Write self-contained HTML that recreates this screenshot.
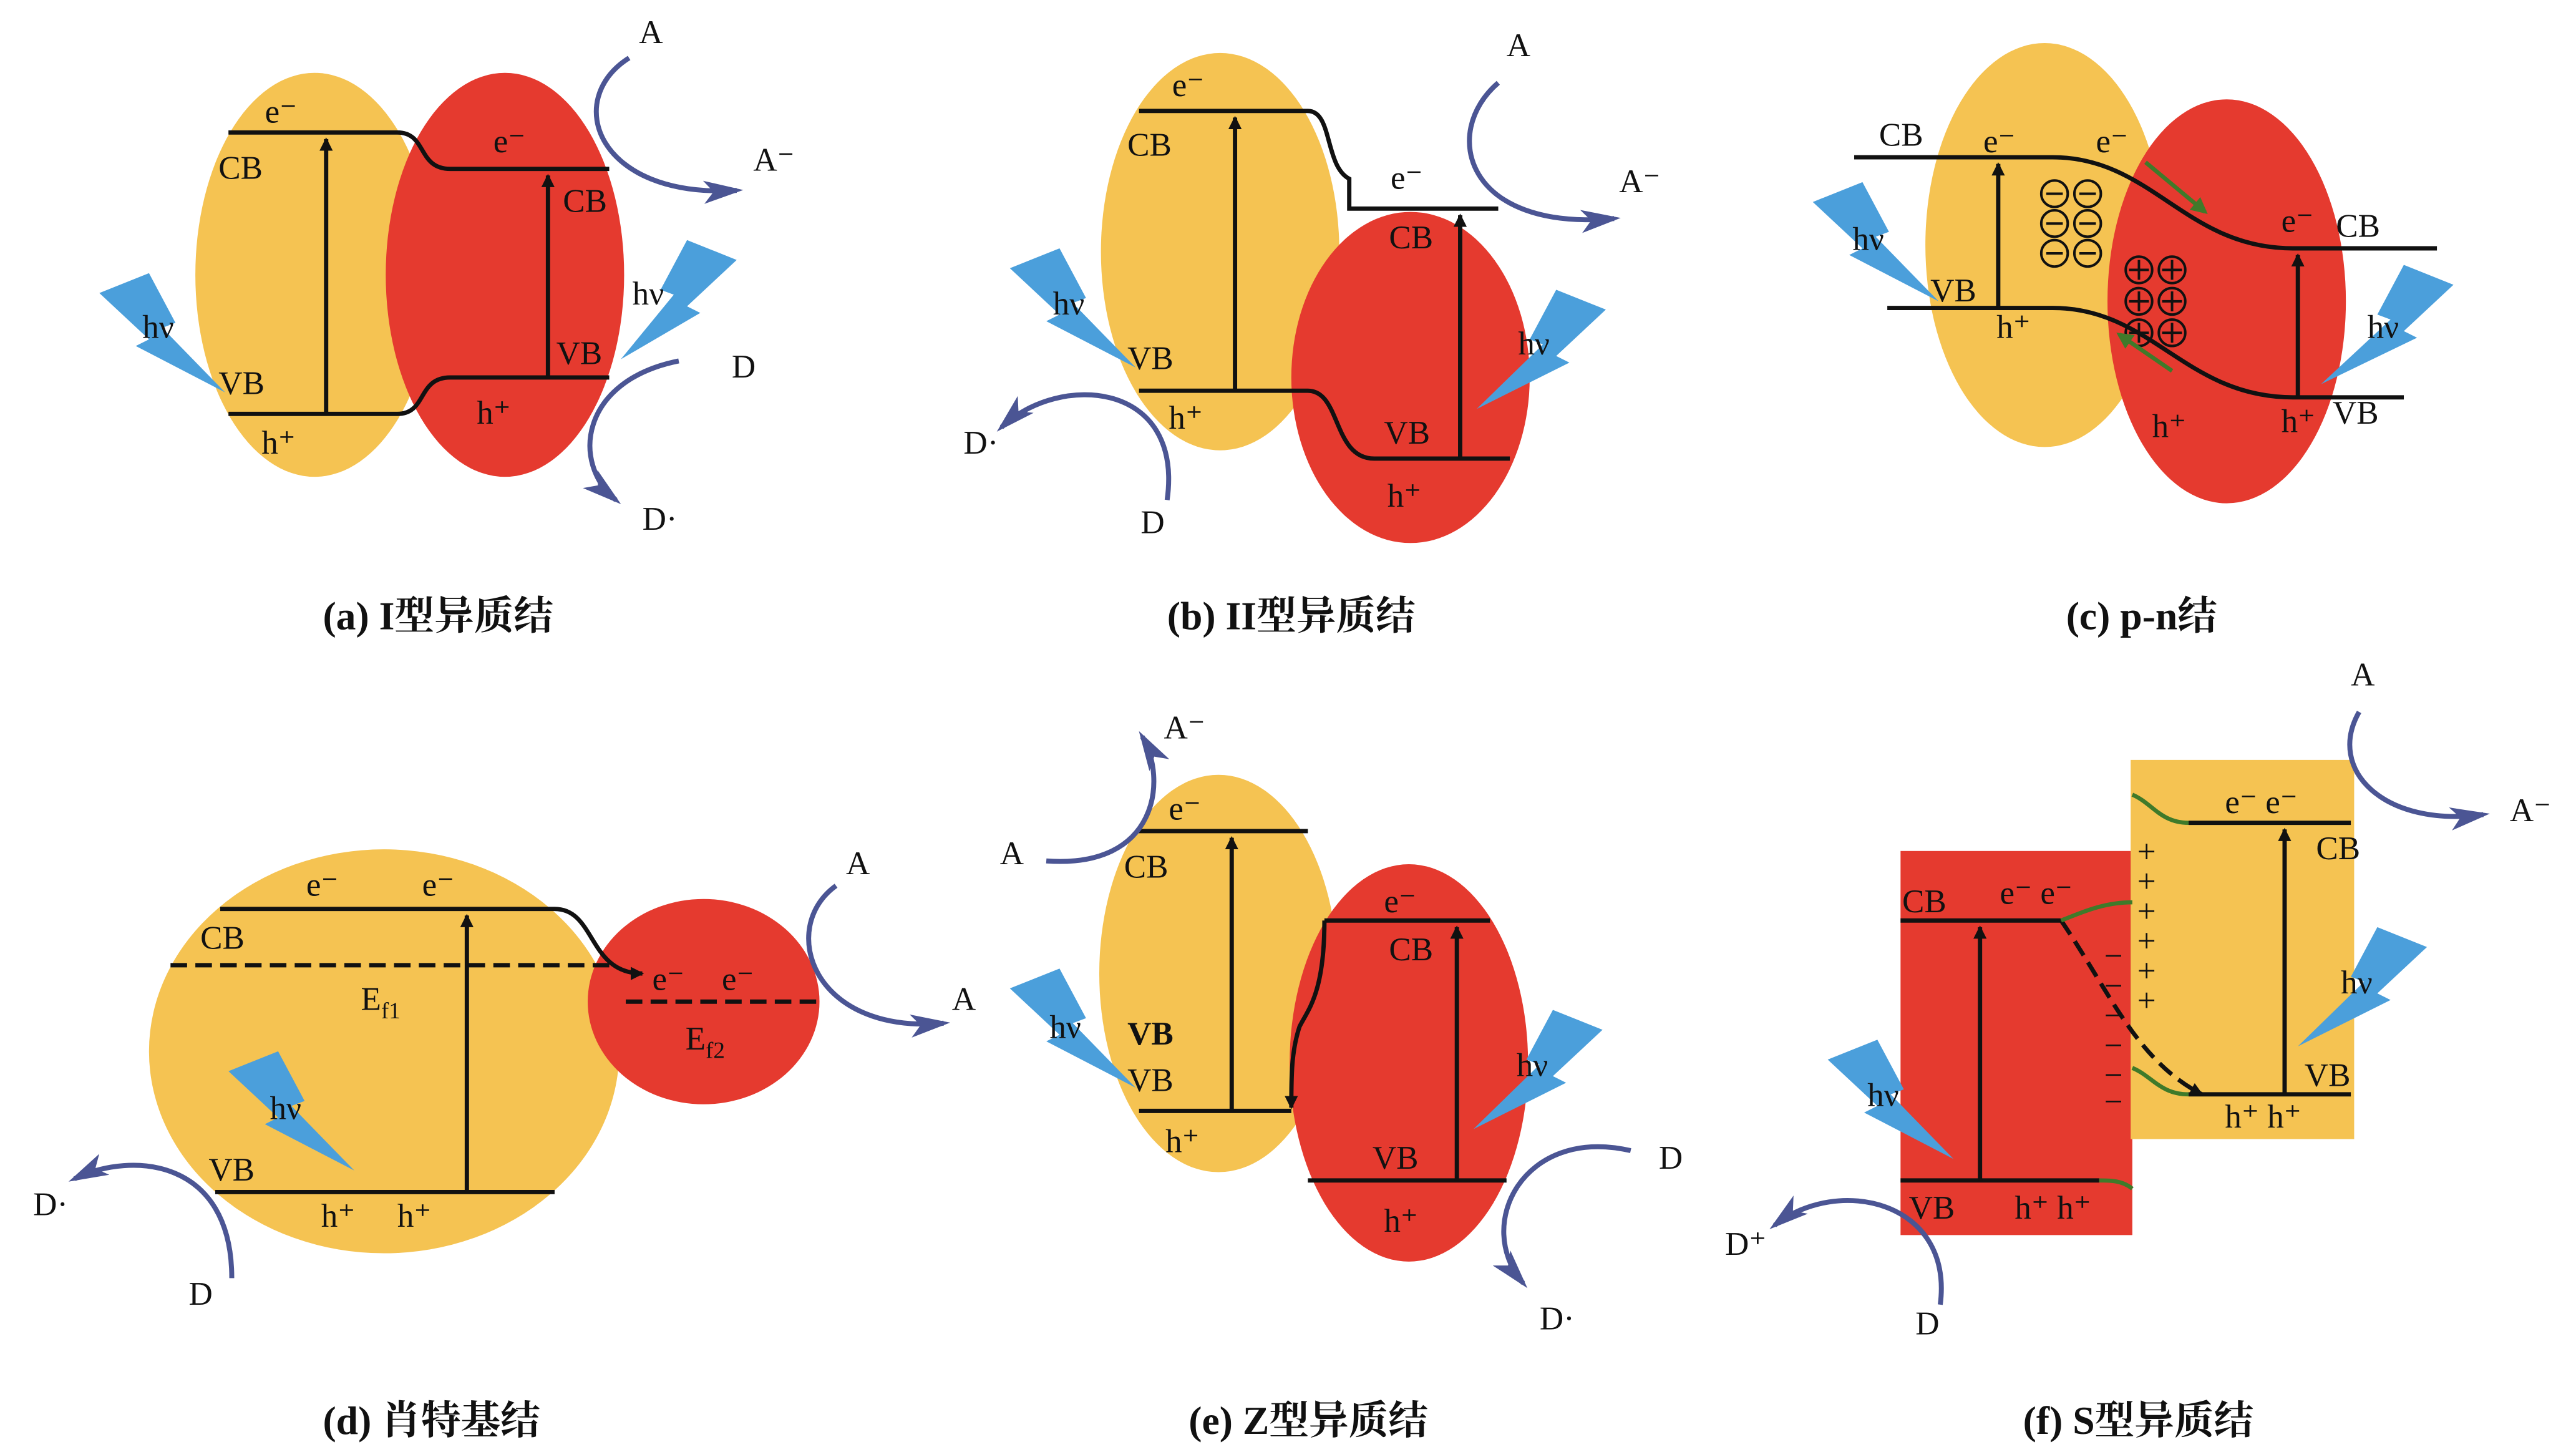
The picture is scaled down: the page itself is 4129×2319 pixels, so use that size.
<!DOCTYPE html>
<html><head><meta charset="utf-8">
<style>
html,body{margin:0;padding:0;background:#fff;}
svg{display:block;width:4129px;height:2319px;}
text{font-family:"Liberation Serif","Noto Serif CJK SC",serif;font-size:20px;fill:#111;}
.cap{font-size:24px;font-weight:bold;}
.ln{stroke:#111;stroke-width:2.6;fill:none;}
.ca{stroke:#4b5594;stroke-width:3;fill:none;}
.gr{stroke:#3f7a2a;stroke-width:2.5;fill:none;}
.y{fill:#f5c352;}
.r{fill:#e53a2f;}
.b{fill:#4b9fdb;}
</style></head><body>
<svg viewBox="0 0 1556 874" preserveAspectRatio="none" xmlns="http://www.w3.org/2000/svg">
<defs>
<marker id="ah" markerWidth="8" markerHeight="8" refX="7" refY="4" orient="auto" markerUnits="userSpaceOnUse"><path d="M0,0 L8,4 L0,8 z" fill="#111"/></marker>
<marker id="bh" markerWidth="24" markerHeight="14" refX="20" refY="7" orient="auto" markerUnits="userSpaceOnUse"><path d="M0,0 L24,7 L0,14 L6,7 z" fill="#4b5594"/></marker>
<marker id="gh" markerWidth="10" markerHeight="10" refX="8" refY="5" orient="auto" markerUnits="userSpaceOnUse"><path d="M0,0 L10,5 L0,10 z" fill="#3f7a2a"/></marker>
</defs>
<rect width="1556" height="874" fill="#fff"/>

<!-- ========== (a) ========== -->
<ellipse class="y" cx="190" cy="166" rx="72" ry="122"/>
<ellipse class="r" cx="305" cy="166" rx="72" ry="122"/>
<path class="ln" d="M138,80 H240 C258,80 252,102 272,102 H368"/>
<path class="ln" d="M138,250 H240 C258,250 252,228 272,228 H368"/>
<line class="ln" x1="197" y1="250" x2="197" y2="84" marker-end="url(#ah)"/>
<line class="ln" x1="331" y1="228" x2="331" y2="106" marker-end="url(#ah)"/>
<text x="160" y="74">e⁻</text><text x="132" y="108">CB</text><text x="132" y="238">VB</text><text x="158" y="274">h⁺</text>
<text x="298" y="92">e⁻</text><text x="340" y="128">CB</text><text x="336" y="220">VB</text><text x="288" y="256">h⁺</text>
<g transform="translate(60,165)"><polygon class="b" points="0,12 30,0 46,30 38,33 76,72 22,44 30,40"/></g>
<g transform="translate(445,145) scale(-1,1)"><polygon class="b" points="0,12 30,0 46,30 38,33 70,72 22,44 30,40"/></g>
<text x="86" y="204">hν</text><text x="382" y="184">hν</text>
<path class="ca" d="M380,35 C340,60 360,120 445,115" marker-end="url(#bh)"/>
<text x="386" y="26">A</text><text x="455" y="103">A⁻</text>
<path class="ca" d="M410,218 C350,230 345,280 372,302" marker-end="url(#bh)"/>
<text x="442" y="228">D</text><text x="388" y="320">D·</text>
<text class="cap" x="195" y="380">(a) I型异质结</text>

<!-- ========== (b) ========== -->
<ellipse class="y" cx="737" cy="152" rx="72" ry="120"/>
<ellipse class="r" cx="852" cy="228" rx="72" ry="100"/>
<path class="ln" d="M688,67 H790 C805,67 800,100 815,108 L815,126 H905"/>
<path class="ln" d="M688,236 H790 C810,236 805,277 830,277 H912"/>
<line class="ln" x1="746" y1="236" x2="746" y2="71" marker-end="url(#ah)"/>
<line class="ln" x1="882" y1="277" x2="882" y2="130" marker-end="url(#ah)"/>
<text x="708" y="58">e⁻</text><text x="681" y="94">CB</text><text x="681" y="223">VB</text><text x="706" y="259">h⁺</text>
<text x="840" y="114">e⁻</text><text x="839" y="150">CB</text><text x="836" y="268">VB</text><text x="838" y="306">h⁺</text>
<g transform="translate(610,150)"><polygon class="b" points="0,12 30,0 46,30 38,33 76,72 22,44 30,40"/></g>
<g transform="translate(970,175) scale(-1,1)"><polygon class="b" points="0,12 30,0 46,30 38,33 78,72 22,44 30,40"/></g>
<text x="636" y="190">hν</text><text x="917" y="214">hν</text>
<path class="ca" d="M905,50 C870,80 885,140 975,132" marker-end="url(#bh)"/>
<text x="910" y="34">A</text><text x="978" y="116">A⁻</text>
<path class="ca" d="M705,302 C715,230 640,225 605,258" marker-end="url(#bh)"/>
<text x="689" y="322">D</text><text x="582" y="274">D·</text>
<text class="cap" x="705" y="380">(b) II型异质结</text>

<!-- ========== (c) ========== -->
<ellipse class="y" cx="1235" cy="148" rx="72" ry="122"/>
<ellipse class="r" cx="1345" cy="182" rx="72" ry="122"/>
<path class="ln" d="M1120,95 H1240 C1300,95 1320,150 1385,150 H1472"/>
<path class="ln" d="M1140,186 H1240 C1300,186 1320,240 1385,240 H1452"/>
<line class="ln" x1="1207" y1="186" x2="1207" y2="99" marker-end="url(#ah)"/>
<line class="ln" x1="1388" y1="240" x2="1388" y2="154" marker-end="url(#ah)"/>
<g fill="none" stroke="#111" stroke-width="1.5" font-size="16">
<circle cx="1241" cy="117" r="8"/><circle cx="1261" cy="117" r="8"/>
<circle cx="1241" cy="135" r="8"/><circle cx="1261" cy="135" r="8"/>
<circle cx="1241" cy="153" r="8"/><circle cx="1261" cy="153" r="8"/>
<path d="M1236,117h10M1256,117h10M1236,135h10M1256,135h10M1236,153h10M1256,153h10"/>
<circle cx="1292" cy="163" r="8"/><circle cx="1312" cy="163" r="8"/>
<circle cx="1292" cy="182" r="8"/><circle cx="1312" cy="182" r="8"/>
<circle cx="1292" cy="201" r="8"/><circle cx="1312" cy="201" r="8"/>
<path d="M1286,163h12M1292,157v12M1306,163h12M1312,157v12M1286,182h12M1292,176v12M1306,182h12M1312,176v12M1286,201h12M1292,195v12M1306,201h12M1312,195v12"/>
</g>
<line class="gr" x1="1296" y1="98" x2="1332" y2="128" marker-end="url(#gh)"/>
<line class="gr" x1="1312" y1="224" x2="1280" y2="202" marker-end="url(#gh)"/>
<text x="1135" y="88">CB</text><text x="1198" y="92">e⁻</text><text x="1266" y="92">e⁻</text>
<text x="1166" y="182">VB</text><text x="1206" y="204">h⁺</text>
<text x="1378" y="140">e⁻</text><text x="1411" y="143">CB</text>
<text x="1300" y="264">h⁺</text><text x="1378" y="261">h⁺</text><text x="1409" y="256">VB</text>
<g transform="translate(1095,110)"><polygon class="b" points="0,12 30,0 46,30 38,33 76,72 22,44 30,40"/></g>
<g transform="translate(1482,160) scale(-1,1)"><polygon class="b" points="0,12 30,0 46,30 38,33 80,72 22,44 30,40"/></g>
<text x="1119" y="151">hν</text><text x="1430" y="204">hν</text>
<text class="cap" x="1248" y="380">(c) p-n结</text>

<!-- ========== (d) ========== -->
<ellipse class="y" cx="232" cy="635" rx="142" ry="122"/>
<ellipse class="r" cx="425" cy="605" rx="70" ry="62"/>
<path class="ln" d="M133,549 H335 C360,549 355,588 388,588" marker-end="url(#ah)"/>
<line class="ln" x1="103" y1="583" x2="368" y2="583" stroke-dasharray="10,5"/>
<line class="ln" x1="378" y1="605" x2="495" y2="605" stroke-dasharray="10,5"/>
<line class="ln" x1="130" y1="720" x2="335" y2="720"/>
<line class="ln" x1="282" y1="720" x2="282" y2="553" marker-end="url(#ah)"/>
<text x="185" y="541">e⁻</text><text x="255" y="541">e⁻</text><text x="121" y="573">CB</text>
<text x="218" y="610">E<tspan font-size="14" dy="5">f1</tspan></text>
<text x="126" y="713">VB</text><text x="194" y="741">h⁺</text><text x="240" y="741">h⁺</text>
<text x="394" y="598">e⁻</text><text x="436" y="598">e⁻</text>
<text x="414" y="634">E<tspan font-size="14" dy="5">f2</tspan></text>
<g transform="translate(138,635)"><polygon class="b" points="0,12 30,0 46,30 38,33 76,72 22,44 30,40"/></g>
<text x="163" y="676">hν</text>
<path class="ca" d="M505,535 C470,560 490,625 570,618" marker-end="url(#bh)"/>
<text x="511" y="528">A</text><text x="575" y="610">A</text>
<path class="ca" d="M140,772 C140,700 80,695 45,712" marker-end="url(#bh)"/>
<text x="20" y="734">D·</text><text x="114" y="788">D</text>
<text class="cap" x="195" y="866">(d) 肖特基结</text>

<!-- ========== (e) ========== -->
<ellipse class="y" cx="736" cy="588" rx="72" ry="120"/>
<ellipse class="r" cx="851" cy="642" rx="72" ry="120"/>
<line class="ln" x1="688" y1="502" x2="790" y2="502"/>
<line class="ln" x1="688" y1="671" x2="780" y2="671"/>
<line class="ln" x1="800" y1="556" x2="900" y2="556"/>
<line class="ln" x1="790" y1="713" x2="910" y2="713"/>
<line class="ln" x1="744" y1="671" x2="744" y2="506" marker-end="url(#ah)"/>
<line class="ln" x1="880" y1="713" x2="880" y2="560" marker-end="url(#ah)"/>
<path class="ln" d="M800,556 C800,600 790,610 785,620 C780,635 780,650 780,669" marker-end="url(#ah)"/>
<text x="706" y="495">e⁻</text><text x="679" y="530">CB</text><text x="681" y="631" font-weight="bold">VB</text><text x="681" y="659">VB</text><text x="704" y="696">h⁺</text>
<text x="836" y="551">e⁻</text><text x="839" y="580">CB</text><text x="829" y="706">VB</text><text x="836" y="744">h⁺</text>
<g transform="translate(610,585)"><polygon class="b" points="0,12 30,0 46,30 38,33 76,72 22,44 30,40"/></g>
<g transform="translate(968,610) scale(-1,1)"><polygon class="b" points="0,12 30,0 46,30 38,33 78,72 22,44 30,40"/></g>
<text x="634" y="627">hν</text><text x="916" y="650">hν</text>
<path class="ca" d="M632,520 C700,525 705,470 690,445" marker-end="url(#bh)"/>
<text x="604" y="522">A</text><text x="703" y="446">A⁻</text>
<path class="ca" d="M985,695 C920,680 890,740 920,775" marker-end="url(#bh)"/>
<text x="1002" y="706">D</text><text x="930" y="803">D·</text>
<text class="cap" x="718" y="866">(e) Z型异质结</text>

<!-- ========== (f) ========== -->
<rect class="r" x="1148" y="514" width="140" height="232"/>
<rect class="y" x="1287" y="459" width="135" height="229"/>
<line class="ln" x1="1148" y1="556" x2="1245" y2="556"/>
<line class="ln" x1="1148" y1="713" x2="1268" y2="713"/>
<line class="ln" x1="1196" y1="713" x2="1196" y2="560" marker-end="url(#ah)"/>
<line class="ln" x1="1322" y1="497" x2="1420" y2="497"/>
<line class="ln" x1="1322" y1="661" x2="1420" y2="661"/>
<line class="ln" x1="1380" y1="661" x2="1380" y2="501" marker-end="url(#ah)"/>
<path class="ln" d="M1245,556 C1275,600 1290,640 1330,661" stroke-dasharray="10,5" marker-end="url(#ah)"/>
<path class="gr" d="M1288,480 C1300,485 1305,497 1322,497"/>
<path class="gr" d="M1245,556 C1260,550 1272,545 1288,545"/>
<path class="gr" d="M1288,645 C1300,650 1305,661 1322,661"/>
<path class="gr" d="M1268,713 C1275,713 1282,713 1288,718"/>
<g font-size="20">
<text x="1291" y="521">+</text><text x="1291" y="539">+</text><text x="1291" y="557">+</text><text x="1291" y="575">+</text><text x="1291" y="593">+</text><text x="1291" y="611">+</text>
<text x="1271" y="584">−</text><text x="1271" y="602">−</text><text x="1271" y="620">−</text><text x="1271" y="638">−</text><text x="1271" y="656">−</text><text x="1271" y="672">−</text>
</g>
<text x="1149" y="551">CB</text><text x="1208" y="546">e⁻ e⁻</text>
<text x="1153" y="736">VB</text><text x="1217" y="736">h⁺ h⁺</text>
<text x="1344" y="491">e⁻ e⁻</text><text x="1399" y="519">CB</text>
<text x="1392" y="656">VB</text><text x="1344" y="681">h⁺ h⁺</text>
<g transform="translate(1104,628)"><polygon class="b" points="0,12 30,0 46,30 38,33 76,72 22,44 30,40"/></g>
<g transform="translate(1466,560) scale(-1,1)"><polygon class="b" points="0,12 30,0 46,30 38,33 78,72 22,44 30,40"/></g>
<text x="1128" y="668">hν</text><text x="1414" y="600">hν</text>
<path class="ca" d="M1425,430 C1405,465 1440,500 1500,492" marker-end="url(#bh)"/>
<text x="1420" y="414">A</text><text x="1516" y="496">A⁻</text>
<path class="ca" d="M1172,788 C1180,725 1110,710 1072,740" marker-end="url(#bh)"/>
<text x="1042" y="758">D⁺</text><text x="1157" y="806">D</text>
<text class="cap" x="1222" y="866">(f) S型异质结</text>
</svg>
</body></html>
